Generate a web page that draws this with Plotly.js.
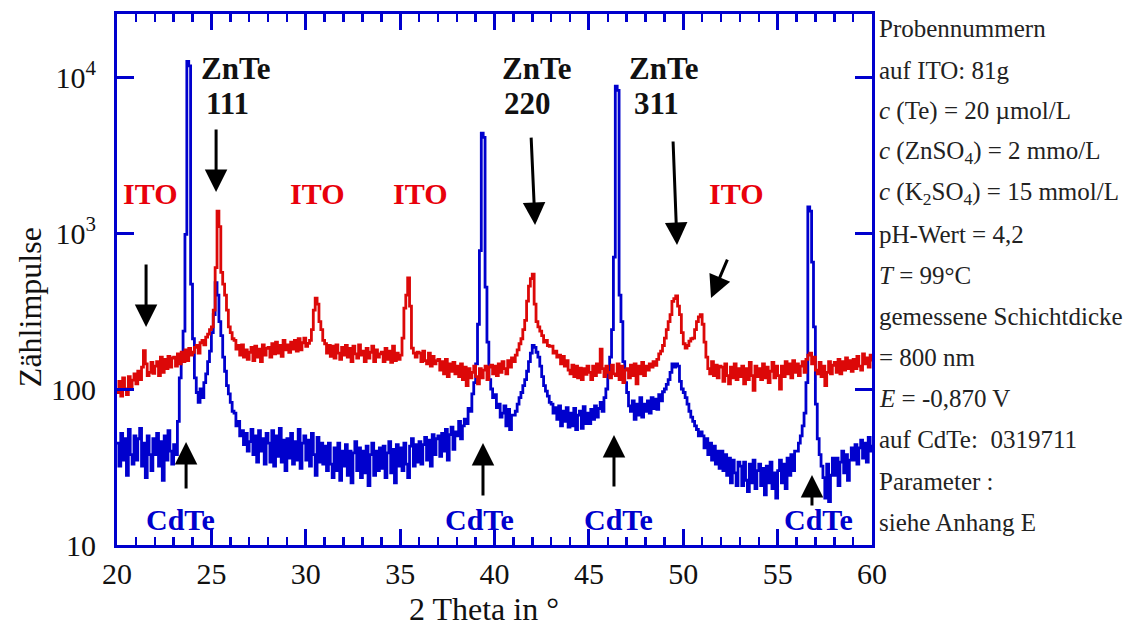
<!DOCTYPE html>
<html><head><meta charset="utf-8">
<script src="https://cdn.plot.ly/plotly-3.0.1.min.js"></script>
<style>html,body{margin:0;padding:0;background:#fff;} #chart{width:1146px;height:633px;}</style>
</head><body><div id="chart"></div>
<script>
// 2 Theta scan grid
const scanStart = 20;
const scanStep = 0.1;

// Zählimpulse, sample on ITO (red), 20.0 ... 60.0 in 0.1° steps
const itoCounts = [
95,112,90,118,100,92,120,102,114,125,
108,130,115,138,176,145,122,128,148,126,
140,150,122,160,128,155,135,162,138,158,
160,140,168,145,172,150,178,152,182,165,
172,185,190,170,198,205,192,215,225,240,
250,320,600,1380,1100,560,470,400,320,250,
230,210,205,180,190,165,192,160,178,155,
172,185,152,188,160,180,150,192,165,182,
185,160,195,168,200,170,190,162,205,178,
192,172,200,180,205,175,210,178,198,212,
188,196,205,240,320,383,350,270,240,205,
195,170,190,162,188,158,192,170,155,185,
165,190,160,182,150,188,168,158,192,165,
175,150,182,158,172,188,150,178,160,168,
172,150,182,155,175,148,188,152,170,155,
165,212,330,400,515,340,183,170,160,172,
170,150,175,152,145,170,140,162,145,152,
155,132,150,125,155,120,145,130,148,125,
140,120,145,115,138,105,135,118,128,140,
120,108,135,118,132,140,115,138,142,125,
140,122,145,128,150,135,125,152,138,158,
150,165,178,195,210,240,275,366,456,510,
545,350,270,250,235,220,200,205,190,188,
188,170,175,160,165,145,162,140,152,132,
125,142,120,140,118,136,115,135,124,140,
128,115,140,122,145,128,180,135,120,140,
128,118,142,125,122,145,115,140,110,132,
135,118,142,122,145,108,140,125,148,122,
140,132,145,138,150,142,155,168,175,190,
212,240,270,300,365,380,395,340,300,230,
195,183,190,203,210,212,240,270,290,300,
260,200,160,135,125,150,122,142,118,140,
138,112,145,122,108,138,118,145,115,135,
120,140,108,135,115,148,122,98,140,120,
135,115,145,118,138,110,130,148,118,140,
122,100,140,120,150,125,145,118,152,128,
145,122,140,150,128,155,165,170,145,160,
132,125,148,120,140,105,128,150,125,142,
148,128,155,125,150,132,158,135,152,130,
155,135,162,140,132,168,145,158,138,165,
150
];

// Zählimpulse, sample on CdTe (blue)
const cdteCounts = [
45,32,52,35,48,28,55,38,33,50,
35,48,56,32,45,27,50,38,30,48,
38,52,32,46,26,50,35,54,40,33,
44,38,62,118,150,235,980,12600,11800,470,
210,118,95,82,100,88,110,125,150,175,
230,300,480,400,270,220,160,130,105,93,
82,72,70,58,62,50,54,44,52,40,
46,55,38,50,34,54,40,48,33,52,
45,34,54,32,50,37,56,34,47,30,
48,36,52,33,46,35,55,31,45,50,
35,47,32,52,38,28,49,34,45,33,
43,30,45,33,27,42,30,45,26,40,
32,44,28,40,25,39,46,30,42,27,
40,29,43,24,38,45,28,40,30,42,
31,43,27,39,46,29,41,25,44,32,
42,30,45,33,27,43,48,32,44,34,
46,33,44,49,35,47,32,51,38,48,
50,37,52,40,55,35,51,57,41,53,
50,62,48,58,64,60,75,72,93,110,
145,260,770,4370,4100,450,200,115,100,88,
92,76,80,66,70,78,58,74,55,68,
68,72,80,88,95,105,115,130,150,170,
190,185,172,160,140,120,105,97,90,82,
80,70,76,64,78,58,72,62,76,57,
70,58,75,55,68,72,56,77,60,70,
60,74,64,78,66,75,82,72,88,100,
130,160,240,700,8740,8200,400,270,150,110,
95,78,72,84,64,80,68,88,66,80,
72,84,70,88,75,86,74,92,84,96,
100,107,115,128,145,138,145,140,112,100,
95,88,80,72,66,62,58,55,50,53,
50,42,48,38,45,35,43,33,40,31,
40,30,38,28,36,25,35,29,24,34,
32,24,34,26,22,33,25,35,23,30,
33,24,31,21,32,25,34,23,29,20,
30,35,25,33,23,36,28,38,30,40,
40,45,50,58,70,110,1470,1380,650,250,
80,48,38,32,27,20,33,19,28,36,
28,36,24,34,40,29,38,26,35,42,
35,44,33,42,47,36,45,34,49,40,
44
];

const xTickVals = [20,25,30,35,40,45,50,55,60];
const yTickVals = [10,100,1000,10000];
const yTickText = ['10','100','10<sup>3</sup>','10<sup>4</sup>'];

const infoLines = [
  'Probennummern',
  'auf ITO: 81g',
  '<i>c</i> (Te) = 20 µmol/L',
  '<i>c</i> (ZnSO<sub>4</sub>) = 2 mmo/L',
  '<i>c</i> (K<sub>2</sub>SO<sub>4</sub>) = 15 mmol/L',
  'pH-Wert = 4,2',
  '<i>T</i> = 99°C',
  'gemessene Schichtdicke',
  '= 800 nm',
  '<i>E</i> = -0,870 V',
  'auf CdTe:  0319711',
  'Parameter :',
  'siehe Anhang E'
];

const FONT = 'Liberation Serif, Times New Roman, serif';
const BLUE = '#0000cd';
const RED = '#dc0808';

const traces = [
  {type:'scatter', mode:'lines', y: cdteCounts, x0: scanStart, dx: scanStep,
   line:{color: BLUE, width: 2.8, shape:'hv'}, hoverinfo:'skip', showlegend:false},
  {type:'scatter', mode:'lines', y: itoCounts, x0: scanStart, dx: scanStep,
   line:{color: RED, width: 2.8, shape:'hv'}, hoverinfo:'skip', showlegend:false}
];

const ann = [];
function label(text, x, ly, color, size){
  ann.push({text: text, x: x, y: ly, xref:'x', yref:'y', showarrow:false,
    xanchor:'center', yanchor:'middle', font:{family: FONT, size: size, color: color}});
}
// ZnTe labels
label('<b>ZnTe</b>', 26.30, 4.055, '#111', 31);
label('<b>111</b>', 25.83, 3.830, '#111', 31);
label('<b>ZnTe</b>', 42.25, 4.055, '#111', 31);
label('<b>220</b>', 41.77, 3.830, '#111', 31);
label('<b>ZnTe</b>', 48.98, 4.055, '#111', 31);
label('<b>311</b>', 48.56, 3.830, '#111', 31);
// ITO labels
[21.75, 30.60, 36.05, 52.79].forEach(x => label('<b>ITO</b>', x, 3.256, '#e8000b', 30));
// CdTe labels
[23.34, 39.18, 46.55, 57.14].forEach(x => label('<b>CdTe</b>', x, 1.165, BLUE, 30));

function arrow(x, ly, ax, ay){
  ann.push({text:'', x: x, y: ly, xref:'x', yref:'y', showarrow:true, ax: ax, ay: ay,
    arrowhead: 2, arrowsize: 1.5, arrowwidth: 3, arrowcolor:'#000', standoff: 0});
}
arrow(21.54, 2.397, 0, -64);
arrow(25.25, 3.263, 0, -64);
arrow(42.15, 3.051, -4, -89);
arrow(49.67, 2.923, -4, -105);
arrow(51.47, 2.583, 17, -40);
arrow(23.66, 1.660, 0, 48);
arrow(39.39, 1.654, 0, 54);
arrow(46.33, 1.705, 0, 53);
arrow(56.82, 1.449, 0, 32);

// axis titles
ann.push({text:'Zählimpulse', xref:'paper', yref:'paper', x:-0.1152, y:0.448, showarrow:false,
  textangle:-90, xanchor:'center', yanchor:'middle', font:{family:FONT, size:32, color:'#111'}});
ann.push({text:'2 Theta in °', xref:'paper', yref:'paper', x:0.486, y:-0.1200, showarrow:false,
  xanchor:'center', yanchor:'middle', font:{family:FONT, size:32, color:'#111'}});

// info text on the right
infoLines.forEach((t, i) => {
  const py = 29 + i * 41.1;
  ann.push({text: t, xref:'paper', yref:'paper', x: (877 - 117) / 755, y: (545 - py) / 531,
    showarrow:false, xanchor:'left', yanchor:'middle',
    font:{family:FONT, size:25, color:'#222'}});
});

const layout = {
  width: 1146, height: 633,
  margin: {l:117, r:274, t:14, b:88, pad:0},
  paper_bgcolor:'#fff', plot_bgcolor:'#fff',
  showlegend:false,
  xaxis: {
    range:[20,60], tickmode:'array', tickvals: xTickVals,
    ticks:'inside', ticklen:16, tickwidth:3, tickcolor: BLUE,
    minor:{dtick:1, ticks:'inside', ticklen:8, tickwidth:2.5, tickcolor: BLUE, showgrid:false},
    showline:true, linecolor: BLUE, linewidth:3, mirror:'ticks',
    showgrid:false, zeroline:false,
    tickfont:{family:FONT, size:30, color:'#111'}, ticklabelstandoff: 0
  },
  yaxis: {
    type:'log', range:[1, 4.404], tickmode:'array', tickvals: yTickVals, ticktext: yTickText,
    ticks:'inside', ticklen:17, tickwidth:3, tickcolor: BLUE,
    showline:true, linecolor: BLUE, linewidth:3, mirror:'ticks',
    showgrid:false, zeroline:false,
    tickfont:{family:FONT, size:30, color:'#111'}, ticklabelstandoff: 12
  },
  annotations: ann
};

Plotly.newPlot('chart', traces, layout, {displayModeBar:false, staticPlot:true});
</script>
</body></html>
